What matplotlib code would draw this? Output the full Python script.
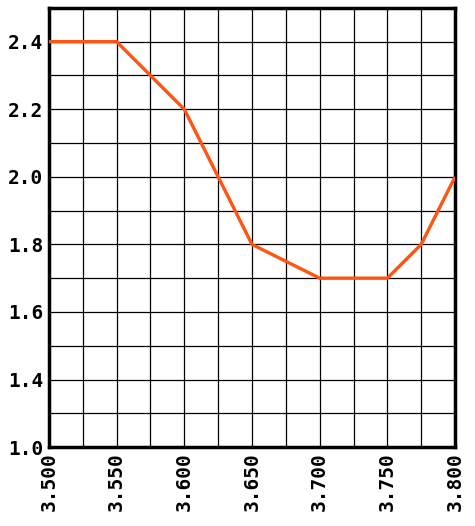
import matplotlib
matplotlib.use("Agg")
import matplotlib.pyplot as plt
import numpy as np

x_vals = [3.500, 3.550, 3.600, 3.650, 3.700, 3.750, 3.775, 3.800]
y_vals = [2.4, 2.4, 2.2, 1.8, 1.7, 1.7, 1.8, 2.0]
x_ticks = [3.500, 3.550, 3.600, 3.650, 3.700, 3.750, 3.800]
x_labels = ["3.500", "3.550", "3.600", "3.650", "3.700", "3.750", "3.800"]
y_ticks = [1.2, 1.4, 1.6, 1.8, 2.0, 2.2, 2.4]
y_labels = ["1.0", "1.4", "1.6", "1.8", "2.0", "2.2", "2.4"]

fig = plt.figure(figsize=(4.75, 5.26), dpi=100)
ax = fig.add_axes([0.103, 0.150, 0.855, 0.835])
ax.plot(x_vals, y_vals, color="#FF5511", lw=2.4, zorder=3, solid_capstyle="butt")
ax.set_xlim(3.5, 3.8)
ax.set_ylim(1.2, 2.5)
ax.set_xticks(x_ticks)
ax.set_xticklabels(x_labels, rotation=90, fontsize=14, fontweight="bold", family="DejaVu Sans Mono")
ax.set_yticks(y_ticks)
ax.set_yticklabels(y_labels, fontsize=14, fontweight="bold", family="DejaVu Sans Mono")
ax.set_xticks(np.arange(3.525, 3.8, 0.05), minor=True)
ax.set_yticks(np.arange(1.3, 2.5, 0.2), minor=True)
ax.grid(True, which="both", color="black", lw=0.9)
ax.tick_params(which="both", length=0, pad=4)
for s in ax.spines.values():
    s.set_linewidth(2.5)
fig.savefig("out.png", dpi=100)
